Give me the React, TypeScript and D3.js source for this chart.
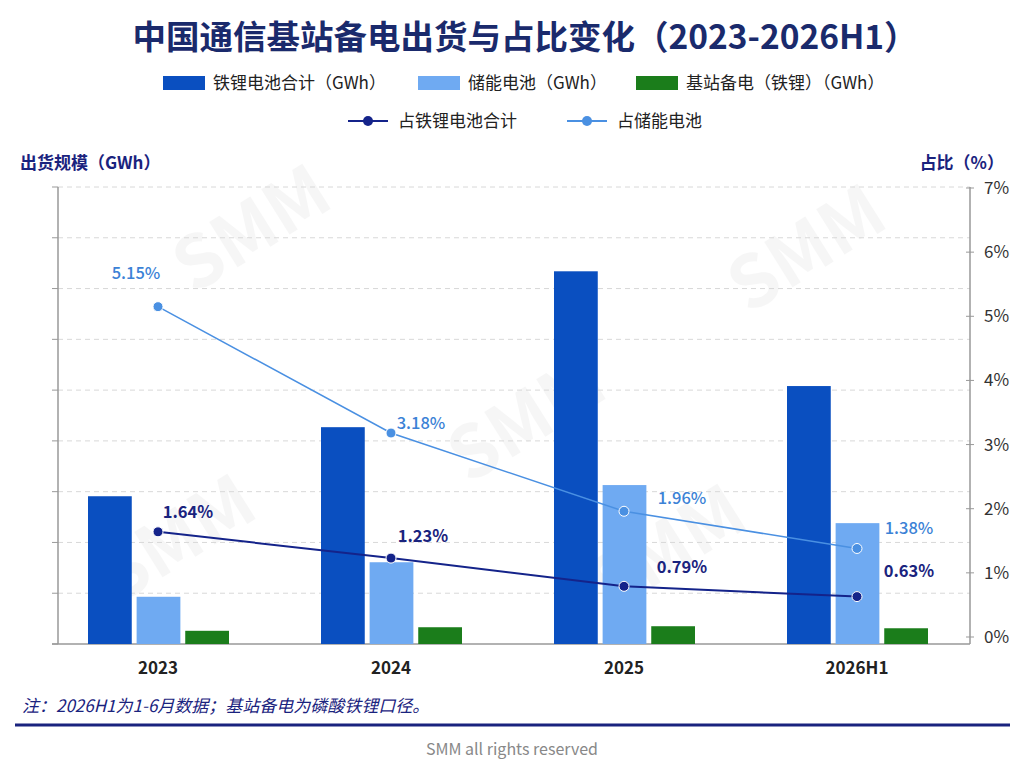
import * as d3 from "d3";

const categories = ["2023", "2024", "2025", "2026H1"];
const seriesNames = ["铁锂电池合计（GWh）", "储能电池（GWh）", "基站备电（铁锂）（GWh）"];
// bar heights (left axis has no printed ticks)
const lfpTotal = [2.91, 4.27, 7.34, 5.08];
const storage = [0.93, 1.61, 3.13, 2.38];
const baseStation = [0.26, 0.33, 0.35, 0.31];
const shareOfLfp = [1.64, 1.23, 0.79, 0.63];
const shareOfStorage = [5.15, 3.18, 1.96, 1.38];
const lineNames = ["占铁锂电池合计", "占储能电池"];
const rightTicks = [0, 1, 2, 3, 4, 5, 6, 7];
const leftTicks = [0, 1, 2, 3, 4, 5, 6, 7, 8, 9];

const W = 1024;
const H = 768;
const FONT = "'Noto Sans CJK SC', 'Noto Sans', sans-serif";
const NAVY = "#1a237e";
const barColors = ["#0a4fc0", "#6faaf2", "#1b7d1b"];
const lineColors = ["#14238a", "#4a90e2"];

// label offsets relative to each point [dx, dy]
const darkLabelOffset = [
  [30, -14],
  [32, -16],
  [58, -13],
  [52, -20],
];
const lightLabelOffset = [
  [-22, -28],
  [30, -4],
  [58, -7],
  [52, -14],
];

export default function App() {
  const plotLeft = 58;
  const plotRight = 970;
  const plotTop = 187;
  const plotBottom = 644;

  const x0 = d3.scaleBand<string>().domain(categories).range([42, 974]);
  const x1 = d3
    .scaleBand<number>()
    .domain([0, 1, 2])
    .range([46, 187])
    .paddingInner(0.1);
  const yL = d3.scaleLinear().domain([0, 9]).range([plotBottom, plotTop]);
  const yR = d3.scaleLinear().domain([0, 7]).range([637, 188]);

  const barSeries = [lfpTotal, storage, baseStation];
  const lineSeries = [shareOfLfp, shareOfStorage];
  const cx = (c: string) => (x0(c) ?? 0) + 116;

  const line = d3
    .line<number>()
    .x((_, i) => cx(categories[i]))
    .y((d) => yR(d));

  const watermarks = [
    [265, 250],
    [820, 270],
    [190, 560],
    [540, 440],
    [680, 570],
  ];

  // legend layout
  const legend1 = [163, 418, 636];
  const legend2 = [348, 567];

  return (
    <div style={{ position: "absolute", left: 0, top: 0 }}>
      <svg width={W} height={H} viewBox={`0 0 ${W} ${H}`} style={{ fontFamily: FONT, background: "#fff" }}>
        <rect width={W} height={H} fill="#fff" />

        {/* watermark */}
        {watermarks.map(([x, y], i) => (
          <text
            key={i}
            x={x}
            y={y}
            transform={`rotate(-32 ${x} ${y})`}
            textAnchor="middle"
            fontSize={72}
            fontWeight={700}
            fill="#000"
            opacity={0.03}
          >
            SMM
          </text>
        ))}

        <text x={W / 2 + 13} y={49} textAnchor="middle" fontSize={33.5} fontWeight={700} fill="#1a2a6c">
          中国通信基站备电出货与占比变化（2023-2026H1）
        </text>

        {/* legend */}
        {seriesNames.map((name, i) => (
          <g key={name} transform={`translate(${legend1[i]},83)`}>
            <rect x={0} y={-7} width={42} height={14} fill={barColors[i]} />
            <text x={50} y={6} fontSize={17} fill="#222">
              {name}
            </text>
          </g>
        ))}
        {lineNames.map((name, i) => (
          <g key={name} transform={`translate(${legend2[i]},121)`}>
            <line x1={0} x2={40} y1={0} y2={0} stroke={lineColors[i]} strokeWidth={2} />
            <circle cx={20} cy={0} r={5} fill={lineColors[i]} />
            <text x={50} y={6} fontSize={17} fill="#222">
              {name}
            </text>
          </g>
        ))}

        <text x={20} y={169} fontSize={17} fontWeight={700} fill={NAVY}>
          出货规模（GWh）
        </text>
        <text x={1004} y={169} textAnchor="end" fontSize={17} fontWeight={700} fill={NAVY}>
          占比（%）
        </text>

        {/* gridlines */}
        {leftTicks.slice(1).map((t) => (
          <line
            key={t}
            x1={plotLeft}
            x2={plotRight}
            y1={yL(t)}
            y2={yL(t)}
            stroke="#d8d8d8"
            strokeDasharray="5 4"
          />
        ))}
        {leftTicks.map((t) => (
          <line key={t} x1={plotLeft - 6} x2={plotLeft} y1={yL(t)} y2={yL(t)} stroke="#999" />
        ))}
        <line x1={plotLeft} x2={plotLeft} y1={plotTop} y2={plotBottom} stroke="#999" strokeWidth={1.5} />
        <line x1={plotLeft - 6} x2={plotRight} y1={plotBottom} y2={plotBottom} stroke="#999" strokeWidth={1.5} />

        {/* right axis */}
        <line x1={plotRight} x2={plotRight} y1={plotTop} y2={plotBottom} stroke="#999" strokeWidth={1.5} />
        {rightTicks.map((t) => (
          <g key={t}>
            <line x1={plotRight - 4} x2={plotRight + 4} y1={yR(t)} y2={yR(t)} stroke="#999" />
            <text x={984} y={yR(t) + 6} fontSize={17} fill="#333">
              {t}%
            </text>
          </g>
        ))}

        {/* bars */}
        {categories.map((c, ci) => (
          <g key={c} transform={`translate(${x0(c)},0)`}>
            {barSeries.map((s, si) => (
              <rect
                key={si}
                x={x1(si)}
                y={yL(s[ci])}
                width={x1.bandwidth()}
                height={plotBottom - yL(s[ci])}
                fill={barColors[si]}
              />
            ))}
          </g>
        ))}

        {/* x labels */}
        {categories.map((c) => (
          <text key={c} x={cx(c)} y={674} textAnchor="middle" fontSize={17} fontWeight={700} fill="#222">
            {c}
          </text>
        ))}

        {/* lines */}
        {lineSeries.map((s, li) => (
          <g key={li}>
            <path d={line(s) ?? ""} fill="none" stroke={lineColors[li]} strokeWidth={li === 0 ? 2 : 1.5} />
            {s.map((v, i) => (
              <circle
                key={i}
                cx={cx(categories[i])}
                cy={yR(v)}
                r={5}
                fill={lineColors[li]}
                stroke="#fff"
                strokeWidth={1}
              />
            ))}
            {s.map((v, i) => {
              const off = li === 0 ? darkLabelOffset[i] : lightLabelOffset[i];
              return (
                <text
                  key={"t" + i}
                  x={cx(categories[i]) + off[0]}
                  y={yR(v) + off[1]}
                  textAnchor="middle"
                  fontSize={16.5}
                  fontWeight={li === 0 ? 700 : 500}
                  fill={li === 0 ? NAVY : "#3b82d6"}
                >
                  {v.toFixed(2)}%
                </text>
              );
            })}
          </g>
        ))}

        <text x={22} y={712} fontSize={17} fontStyle="italic" fill={NAVY}>
          注：2026H1为1-6月数据；基站备电为磷酸铁锂口径。
        </text>
        <line x1={15} x2={1010} y1={725} y2={725} stroke={NAVY} strokeWidth={3} />
        <text x={W / 2} y={755} textAnchor="middle" fontSize={16} fill="#888">
          SMM all rights reserved
        </text>
      </svg>
    </div>
  );
}
